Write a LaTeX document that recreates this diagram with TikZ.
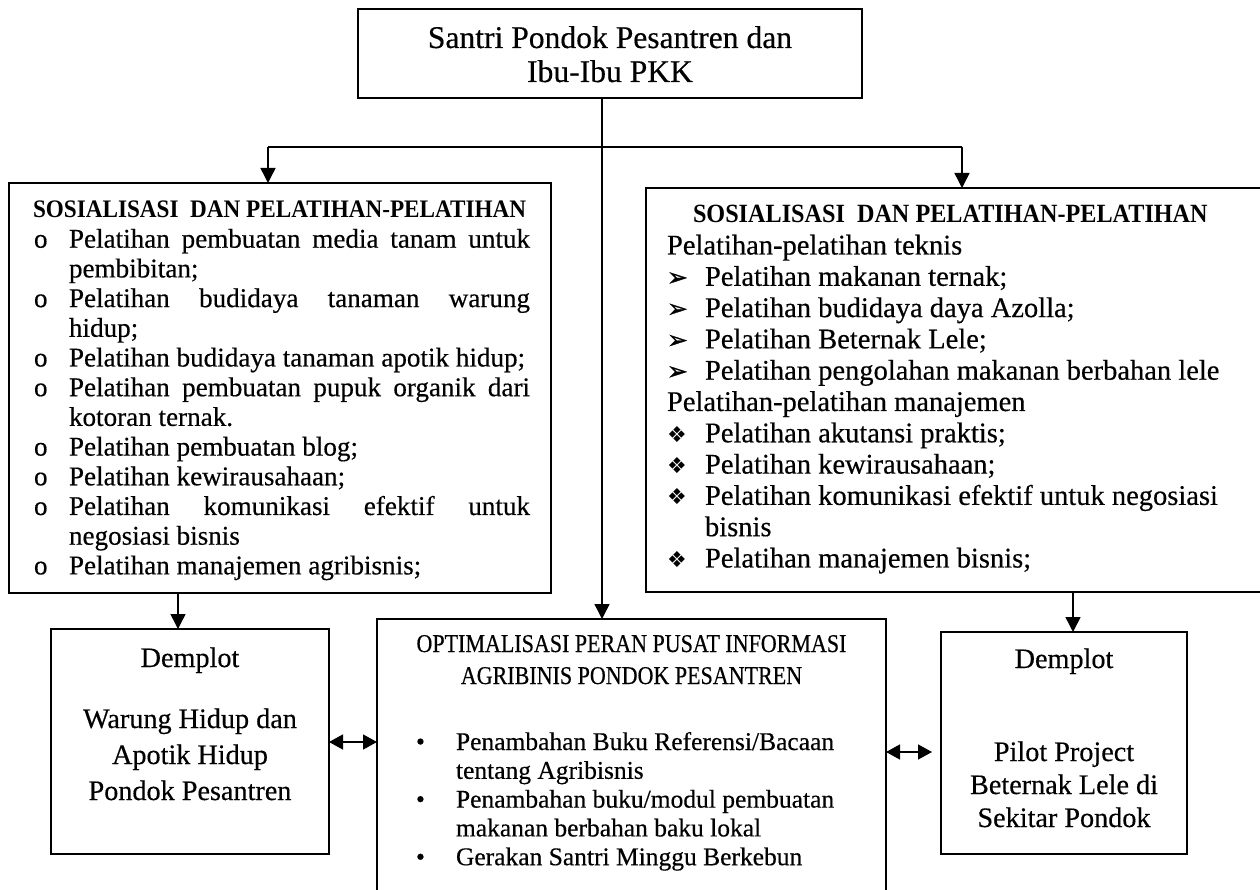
\documentclass[tikz,border=0pt]{standalone}
\usepackage{fontspec}
\setmainfont{Liberation Serif}
\newfontfamily\bodyf[FakeBold=0.4]{Liberation Serif}
\newfontfamily\hdrf[FakeStretch=0.92]{Liberation Serif}
\newfontfamily\condf[FakeStretch=0.86,FakeBold=0.4]{Liberation Serif}
\newfontfamily\symf{DejaVu Sans}
\newfontfamily\symbf[FakeBold=1.2]{DejaVu Sans}
\usetikzlibrary{arrows.meta}
\newcommand{\obul}{\makebox[36pt][l]{\hspace{1pt}o}}
\newcommand{\abul}{\makebox[38pt][l]{{\symbf\fontsize{25}{25}\selectfont ➢}}}
\newcommand{\dbul}{\makebox[38pt][l]{{\symf\fontsize{22}{22}\selectfont ❖}}}
\newcommand{\mbul}{\makebox[43pt][l]{\hspace{3pt}•}}
\tikzset{
  box/.style={draw, line width=1.5pt, inner sep=0pt, outer sep=0pt, anchor=north west},
  txt/.style={inner sep=0pt, outer sep=0pt, anchor=base west},
  ctxt/.style={inner sep=0pt, outer sep=0pt, anchor=base},
  ln/.style={line width=1.5pt},
  arr/.style={line width=1.5pt, -{Triangle[length=15pt,width=15pt]}},
  darr/.style={line width=1.5pt, {Triangle[length=14pt,width=15pt]}-{Triangle[length=14pt,width=15pt]}}
}
\begin{document}
\begin{tikzpicture}[x=1pt,y=-1pt]
\useasboundingbox (0,0) rectangle (1260,890);
% boxes
\node[box, minimum width=504pt, minimum height=89pt] (top) at (358,9) {};
\node[box, minimum width=542pt, minimum height=410pt] (lbox) at (9,183) {};
\node[box, minimum width=620pt, minimum height=404pt] (rbox) at (646,188) {};
\node[box, minimum width=509pt, minimum height=290pt] (mid) at (377,619) {};
\node[box, minimum width=278pt, minimum height=225pt] (ldem) at (51,629) {};
\node[box, minimum width=246pt, minimum height=222pt] (rdem) at (941,632) {};
% top text
\node[ctxt] (toptxt) at (610,48) {\parbox[t]{500pt}{\centering\bodyf\fontsize{31.6}{34}\selectfont
Santri Pondok Pesantren dan\\Ibu-Ibu PKK}};
% left box text
\node[txt] (lhdr) at (33,218) {\hdrf\bfseries\fontsize{25.2}{29.7}\selectfont SOSIALISASI\ \ DAN PELATIHAN-PELATIHAN};
\node[txt] (ltxt) at (33,247.7) {\parbox[t]{500pt}{\bodyf\fontsize{27.1}{29.7}\selectfont
\obul\makebox[461pt][s]{Pelatihan pembuatan media tanam untuk}\\
\hspace*{36pt}pembibitan;\\
\obul\makebox[461pt][s]{Pelatihan budidaya tanaman warung}\\
\hspace*{36pt}hidup;\\
\obul Pelatihan budidaya tanaman apotik hidup;\\
\obul\makebox[461pt][s]{Pelatihan pembuatan pupuk organik dari}\\
\hspace*{36pt}kotoran ternak.\\
\obul Pelatihan pembuatan blog;\\
\obul Pelatihan kewirausahaan;\\
\obul\makebox[461pt][s]{Pelatihan komunikasi efektif untuk}\\
\hspace*{36pt}negosiasi bisnis\\
\obul Pelatihan manajemen agribisnis;}};
% right box text
\node[txt] (rhdr) at (693,223) {\hdrf\bfseries\fontsize{26.3}{31.3}\selectfont SOSIALISASI\ \ DAN PELATIHAN-PELATIHAN};
\node[txt] (rtxt) at (667,254.5) {\parbox[t]{580pt}{\bodyf\fontsize{28.5}{31.3}\selectfont
Pelatihan-pelatihan teknis\\
\abul Pelatihan makanan ternak;\\
\abul Pelatihan budidaya daya Azolla;\\
\abul Pelatihan Beternak Lele;\\
\abul Pelatihan pengolahan makanan berbahan lele\\
Pelatihan-pelatihan manajemen\\
\dbul Pelatihan akutansi praktis;\\
\dbul Pelatihan kewirausahaan;\\
\dbul Pelatihan komunikasi efektif untuk negosiasi\\
\hspace*{38pt}bisnis\\
\dbul Pelatihan manajemen bisnis;}};
% middle box text
\node[ctxt] (mtitle) at (631.5,652) {\parbox[t]{500pt}{\centering\condf\fontsize{25.6}{32}\selectfont
OPTIMALISASI PERAN PUSAT INFORMASI\\AGRIBINIS PONDOK PESANTREN}};
\node[txt] (mlist) at (413,750) {\parbox[t]{470pt}{\bodyf\fontsize{25.5}{28.8}\selectfont
\mbul Penambahan Buku Referensi/Bacaan\\
\hspace*{43pt}tentang Agribisnis\\
\mbul Penambahan buku/modul pembuatan\\
\hspace*{43pt}makanan berbahan baku lokal\\
\mbul Gerakan Santri Minggu Berkebun}};
% demplot texts
\node[ctxt] (ld1) at (190,667) {\bodyf\fontsize{28.2}{32}\selectfont Demplot};
\node[ctxt] (ld2) at (190,728) {\parbox[t]{270pt}{\centering\bodyf\fontsize{28.2}{36}\selectfont
Warung Hidup dan\\Apotik Hidup\\Pondok Pesantren}};
\node[ctxt] (rd1) at (1064,668) {\bodyf\fontsize{28.2}{32}\selectfont Demplot};
\node[ctxt] (rd2) at (1064,761) {\parbox[t]{240pt}{\centering\bodyf\fontsize{28.2}{33}\selectfont
Pilot Project\\Beternak Lele di\\Sekitar Pondok}};
% connectors
\coordinate (jc) at (602,147);
\coordinate (jl) at (268,147);
\coordinate (jr) at (962,147);
\coordinate (xl) at (178,600);
\coordinate (xr) at (1073,600);
\coordinate (yl) at (350,742);
\coordinate (yr) at (910,752);
\draw[arr] (top.south -| jc) -- (mid.north -| jc);
\draw[ln] (jl) -- (jr);
\draw[arr] (jl) -- (lbox.north -| jl);
\draw[arr] (jr) -- (rbox.north -| jr);
\draw[arr] (lbox.south -| xl) -- (ldem.north -| xl);
\draw[arr] (rbox.south -| xr) -- (rdem.north -| xr);
\draw[darr] (ldem.east |- yl) -- (mid.west |- yl);
\draw[darr, shorten >=9pt] (mid.east |- yr) -- (rdem.west |- yr);
\end{tikzpicture}
\end{document}
